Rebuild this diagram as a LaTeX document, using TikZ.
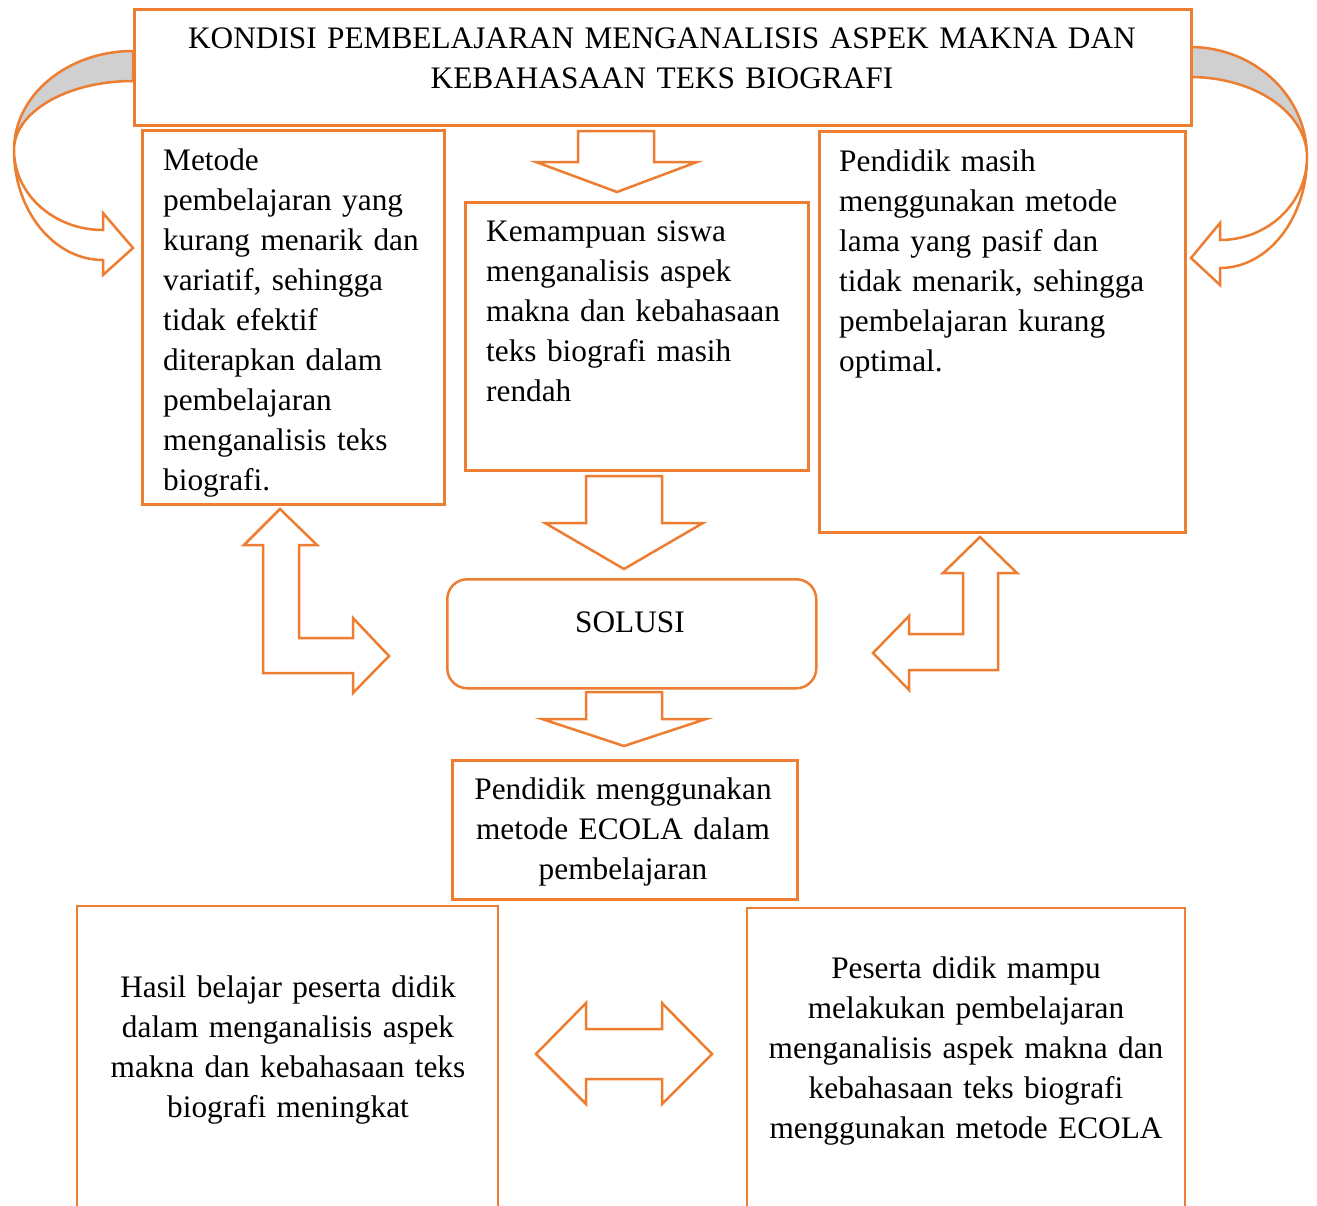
\documentclass[tikz,border=0pt]{standalone}
\usepackage{fontspec}
\setmainfont{Liberation Serif}
\definecolor{orng}{RGB}{237,125,49}
\definecolor{bandgray}{RGB}{208,208,208}
\begin{document}
\begin{tikzpicture}[x=1pt,y=-1pt,
  box/.style={draw=orng, line width=2.5pt, fill=white, inner sep=0pt, anchor=north west},
  openbox/.style={draw=orng, line width=2.6pt},
  blockarrow/.style={draw=orng, line width=2.5pt, fill=white, line join=miter},
  band/.style={draw=orng, line width=2.5pt, fill=bandgray},
  txtl/.style={inner sep=0pt, anchor=base west, text width=#1, align=left, font=\fontsize{31.3}{40}\selectfont},
  txtc/.style={inner sep=0pt, anchor=base, text width=#1, align=center, font=\fontsize{31.3}{40}\selectfont}]
\useasboundingbox (0,0) rectangle (1317,1205);

% curved arrows (left)
\path[band] (133,51) arc[start angle=90, end angle=180, x radius=119pt, y radius=99pt]
  arc[start angle=180, end angle=90, x radius=119pt, y radius=69pt] -- cycle;
\path[blockarrow] (14,150) arc[start angle=180, end angle=270, x radius=89pt, y radius=80pt]
  -- (103,213) -- (133,248) -- (103,275) -- (103,260)
  arc[start angle=270, end angle=180, x radius=89pt, y radius=110pt] -- cycle;
% curved arrows (right)
\path[band] (1190,47) arc[start angle=90, end angle=0, x radius=117pt, y radius=110pt]
  arc[start angle=0, end angle=90, x radius=117pt, y radius=80pt] -- cycle;
\path[blockarrow] (1307,157) arc[start angle=0, end angle=-90, x radius=87pt, y radius=83pt]
  -- (1220,223) -- (1191,258) -- (1220,285) -- (1220,268)
  arc[start angle=-90, end angle=0, x radius=87pt, y radius=111pt] -- cycle;

% boxes
\node[box, minimum width=1057pt, minimum height=116pt] (top) at (133,8) {};
\node[box, minimum width=302pt, minimum height=374pt] (left) at (141,129) {};
\node[box, minimum width=343pt, minimum height=268pt] (mid) at (464,201) {};
\node[box, minimum width=366pt, minimum height=401pt] (right) at (818,130) {};
\node[box, rounded corners=20pt, minimum width=369pt, minimum height=109pt] (sol) at (446,578) {};
\node[box, minimum width=345pt, minimum height=139pt] (ecola) at (451,759) {};
\draw[openbox] (77,1215) -- (77,906) -- (498,906) -- (498,1215);
\draw[openbox] (747,1215) -- (747,908) -- (1185,908) -- (1185,1215);

% straight block arrows
\path[blockarrow] (578,131) -- (654,131) -- (654,162) -- (697,162) -- (617,192) -- (536,162) -- (578,162) -- cycle;
\path[blockarrow] (586,476) -- (662,476) -- (662,523) -- (703,523) -- (624,569) -- (545,523) -- (586,523) -- cycle;
\path[blockarrow] (586,692) -- (662,692) -- (662,719) -- (706,719) -- (624,746) -- (542,719) -- (586,719) -- cycle;
% double arrow
\path[blockarrow] (536,1054) -- (586,1003) -- (586,1029) -- (662,1029) -- (662,1003) -- (712,1054)
  -- (662,1104) -- (662,1079) -- (586,1079) -- (586,1104) -- cycle;
% bent arrows
\path[blockarrow] (280,509) -- (317,545) -- (299,545) -- (299,638) -- (353,638) -- (353,618) -- (389,656)
  -- (353,693) -- (353,673) -- (263,673) -- (263,545) -- (244,545) -- cycle;
\path[blockarrow] (980,537) -- (1017,573) -- (998,573) -- (998,670) -- (909,670) -- (909,690) -- (873,653)
  -- (909,616) -- (909,634) -- (963,634) -- (963,573) -- (943,573) -- cycle;

% texts
\node[txtc=1040pt] (ttop) at (662,48) {KONDISI PEMBELAJARAN MENGANALISIS ASPEK MAKNA DAN\\KEBAHASAAN TEKS BIOGRAFI};
\node[txtl=290pt] (tleft) at (163,170) {Metode\\pembelajaran yang\\kurang menarik dan\\variatif, sehingga\\tidak efektif\\diterapkan dalam\\pembelajaran\\menganalisis teks\\biografi.};
\node[txtl=320pt] (tmid) at (486,241) {Kemampuan siswa\\menganalisis aspek\\makna dan kebahasaan\\teks biografi masih\\rendah};
\node[txtl=340pt] (tright) at (839,171) {Pendidik masih\\menggunakan metode\\lama yang pasif dan\\tidak menarik, sehingga\\pembelajaran kurang\\optimal.};
\node[txtc=360pt] (tsol) at (630,632) {SOLUSI};
\node[txtc=340pt] (tecola) at (623,799) {Pendidik menggunakan\\metode ECOLA dalam\\pembelajaran};
\node[txtc=410pt] (tbl) at (288,997) {Hasil belajar peserta didik\\dalam menganalisis aspek\\makna dan kebahasaan teks\\biografi meningkat};
\node[txtc=430pt] (tbr) at (966,978) {Peserta didik mampu\\melakukan pembelajaran\\menganalisis aspek makna dan\\kebahasaan teks biografi\\menggunakan metode ECOLA};
\end{tikzpicture}
\end{document}
